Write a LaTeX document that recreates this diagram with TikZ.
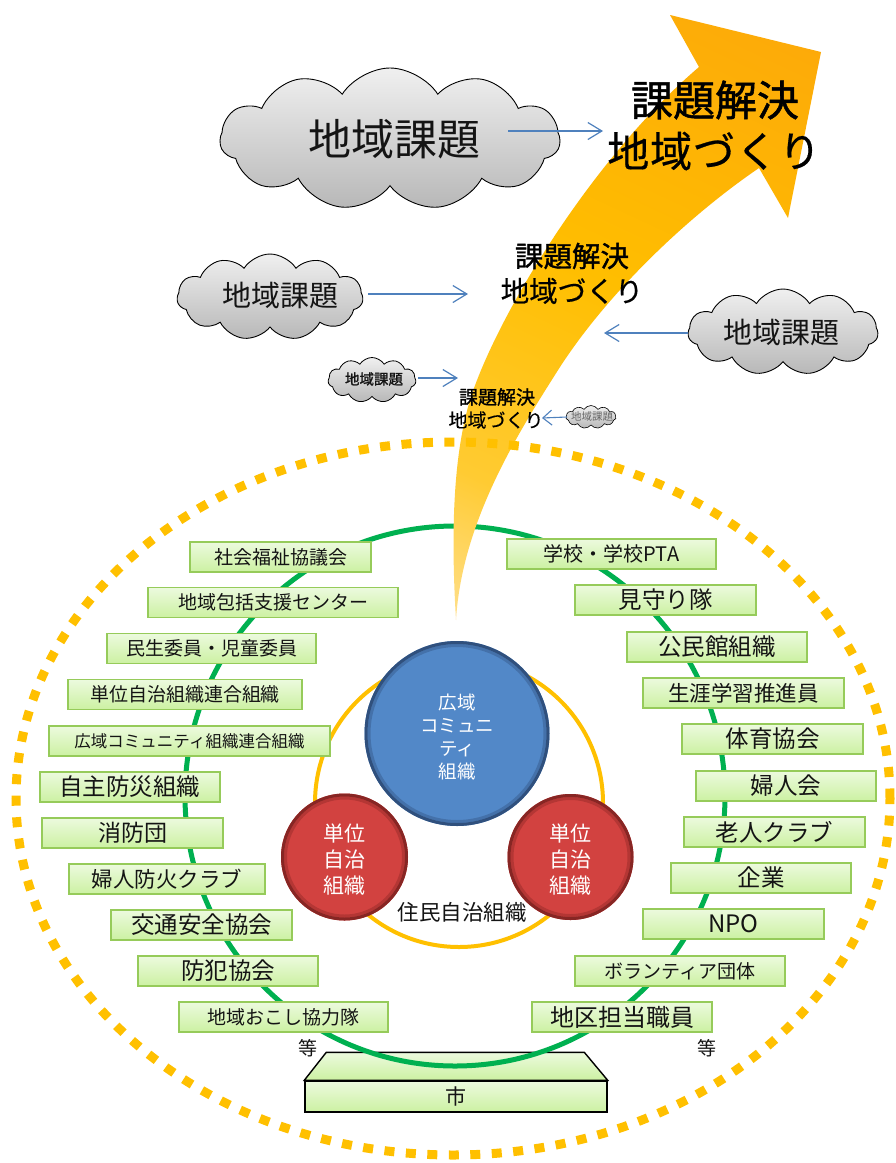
\documentclass[tikz,border=0pt]{standalone}
\usepackage{fontspec}
\setmainfont{Noto Sans CJK JP}
\usetikzlibrary{shapes.symbols,arrows.meta}
\definecolor{dotyel}{RGB}{255,192,0}
\definecolor{ringgreen}{RGB}{0,176,80}
\definecolor{ringyel}{RGB}{255,192,0}
\definecolor{arrowblue}{RGB}{79,129,189}
\definecolor{gtop}{RGB}{236,250,222}
\definecolor{gbot}{RGB}{204,241,162}
\definecolor{gborder}{RGB}{150,203,90}
\definecolor{bluemain}{RGB}{82,136,200}
\definecolor{bluedark}{RGB}{48,80,125}
\definecolor{redmain}{RGB}{210,66,64}
\definecolor{reddark}{RGB}{135,38,36}
\definecolor{ar0}{RGB}{255,248,232}
\definecolor{ar1}{RGB}{255,228,160}
\definecolor{ar2}{RGB}{255,203,50}
\definecolor{ar3}{RGB}{255,190,0}
\definecolor{ar4}{RGB}{253,172,8}
\definecolor{ar5}{RGB}{247,150,22}
\definecolor{txt}{RGB}{20,20,20}
\pgfdeclareverticalshading{arrowshade}{100bp}{color(0bp)=(ar0); color(14bp)=(ar1); color(30bp)=(ar2); color(52bp)=(ar3); color(78bp)=(ar4); color(100bp)=(ar5)}
\newcommand{\fsz}[1]{\fontsize{#1pt}{#1pt}\selectfont}
\newcommand{\heavy}{\addfontfeatures{FakeBold=1.3}}
\begin{document}
\begin{tikzpicture}[x=1pt,y=-1pt,
  gbox/.style={draw=gborder, line width=1.5pt, top color=gtop, bottom color=gbot,
    minimum height=30pt, inner sep=0pt, text=txt},
  cloudshape/.style={cloud, cloud puffs=11, cloud puff arc=115, cloud ignores aspect,
    draw=black, line width=0.9pt, top color=black!6, bottom color=black!28, inner sep=0pt},
  bluearrow/.style={draw=arrowblue, line width=1.2pt, -{Straight Barb[length=14pt,width=17pt]}},
  smallarrow/.style={draw=arrowblue, line width=1.1pt, -{Straight Barb[length=9pt,width=15pt]}},
  sibox/.style={draw=black, line width=1.4pt, top color=gtop, bottom color=gbot},
  ctext/.style={text=white, align=center, inner sep=0pt},
  rimA/.style={line width=3pt},
  rimB/.style={line width=3pt, opacity=0.4}
]
\fill[white] (0,0) rectangle (896,1163);
\useasboundingbox (0,0) rectangle (896,1163);

% city slab
\node[sibox, minimum width=302pt, minimum height=31pt, inner sep=0pt, text=txt, font=\fsz{21}] (shi) at (456,1096.5) {市};
\draw[sibox] (shi.north west) -- ++(22,-28) -- ++(258,0) -- (shi.north east) -- cycle;

% green ring
\draw[ringgreen, line width=5pt] (455,796) circle[radius=270pt];

% big curved arrow
\shade[shading=arrowshade, shading angle=-25]
 (456,620) .. controls (450,520) and (455,450) .. (470,400)
 .. controls (495,320) and (590,160) .. (699,67)
 -- (670,15) -- (821,52) -- (788,218) -- (759,168)
 .. controls (690,215) and (610,290) .. (560,367)
 .. controls (520,430) and (462,520) .. (456,620) -- cycle;

% dotted ellipse
\draw[dotyel, line width=9pt, dash pattern=on 10pt off 11.5pt] (453,798.5) ellipse[x radius=437pt, y radius=356.5pt];

% yellow ring
\draw[ringyel, line width=4pt] (459,803) circle[radius=144pt];

% circles
\node[circle, minimum size=185pt, inner sep=0pt, fill=bluemain] (bc) at (457,733.5) {};
\draw[bluedark, rimA] (bc.center) circle[radius=91pt];
\draw[bluedark, rimB] (bc.center) circle[radius=88pt];
\node[ctext, font=\fontsize{18.5pt}{22.7pt}\selectfont] (bct) at (457,737) {広域\\コミュニ\\ティ\\組織};
\node[circle, minimum size=127pt, inner sep=0pt, fill=redmain] (rl) at (344.5,857) {};
\draw[reddark, rimA] (rl.center) circle[radius=62pt];
\draw[reddark, rimB] (rl.center) circle[radius=59pt];
\node[ctext, font=\fontsize{21pt}{26pt}\selectfont] (rlt) at (344.5,859.5) {単位\\自治\\組織};
\node[circle, minimum size=126pt, inner sep=0pt, fill=redmain] (rr) at (570.5,857) {};
\draw[reddark, rimA] (rr.center) circle[radius=61.5pt];
\draw[reddark, rimB] (rr.center) circle[radius=58.5pt];
\node[ctext, font=\fontsize{21pt}{26pt}\selectfont] (rrt) at (570.5,859.5) {単位\\自治\\組織};
\node[text=txt, font=\fsz{21.5}, inner sep=0pt] (jumin) at (462,912) {住民自治組織};

% left boxes
\node[gbox, minimum width=181pt, font=\fsz{19}] (l1) at (280.5,557) {社会福祉協議会};
\node[gbox, minimum width=250pt, font=\fsz{19}] (l2) at (273,602.5) {地域包括支援センター};
\node[gbox, minimum width=209pt, font=\fsz{19}] (l3) at (211.5,648.5) {民生委員・児童委員};
\node[gbox, minimum width=234pt, font=\fsz{19}] (l4) at (185,694.5) {単位自治組織連合組織};
\node[gbox, minimum width=281pt, font=\fsz{16.5}] (l5) at (189.5,741) {広域コミュニティ組織連合組織};
\node[gbox, minimum width=180pt, font=\fsz{23.5}] (l6) at (130,787) {自主防災組織};
\node[gbox, minimum width=181pt, font=\fsz{23}] (l7) at (132.5,833) {消防団};
\node[gbox, minimum width=196pt, font=\fsz{21.5}] (l8) at (167,879) {婦人防火クラブ};
\node[gbox, minimum width=181pt, font=\fsz{23.5}] (l9) at (201.5,925) {交通安全協会};
\node[gbox, minimum width=180pt, font=\fsz{23.5}] (l10) at (228,971) {防犯協会};
\node[gbox, minimum width=209pt, font=\fsz{19}] (l11) at (283.5,1017) {地域おこし協力隊};
\node[text=txt, font=\fsz{19}, inner sep=0pt] (etcl) at (308,1048) {等};

% right boxes
\node[gbox, minimum width=209pt, font=\fsz{20}] (r1) at (611.5,554) {学校・学校PTA};
\node[gbox, minimum width=181pt, font=\fsz{23.5}] (r2) at (665.5,600) {見守り隊};
\node[gbox, minimum width=180pt, font=\fsz{23.5}] (r3) at (717,647) {公民館組織};
\node[gbox, minimum width=201pt, font=\fsz{21.5}] (r4) at (743.5,693) {生涯学習推進員};
\node[gbox, minimum width=181pt, font=\fsz{23.5}] (r5) at (772.5,739) {体育協会};
\node[gbox, minimum width=180pt, font=\fsz{23.5}] (r6) at (786,786) {婦人会};
\node[gbox, minimum width=181pt, font=\fsz{23.5}] (r7) at (774.5,832) {老人クラブ};
\node[gbox, minimum width=180pt, font=\fsz{23.5}] (r8) at (761,878) {企業};
\node[gbox, minimum width=181pt, font=\fsz{24}] (r9) at (733.5,924) {NPO};
\node[gbox, minimum width=210pt, font=\fsz{19}] (r10) at (680,971) {ボランティア団体};
\node[gbox, minimum width=180pt, font=\fsz{24}] (r11) at (622,1017) {地区担当職員};
\node[text=txt, font=\fsz{19}, inner sep=0pt] (etcr) at (707,1048) {等};

% clouds
\node[cloudshape, minimum width=340pt, minimum height=142pt] (c1) at (390,139) {};
\node[text=txt, font=\fsz{43}, inner sep=0pt] (c1t) at (394,139) {地域課題};
\node[cloudshape, minimum width=186pt, minimum height=86pt] (c2) at (270,297) {};
\node[text=txt, font=\fsz{29}, inner sep=0pt] (c2t) at (280,296) {地域課題};
\node[cloudshape, minimum width=190pt, minimum height=86pt] (c3) at (783,332) {};
\node[text=txt, font=\fsz{29}, inner sep=0pt] (c3t) at (781,333) {地域課題};
\node[cloudshape, minimum width=88pt, minimum height=45pt, line width=0.8pt] (c4) at (372,380) {};
\node[text=txt, font=\fsz{14.5}\heavy, inner sep=0pt] (c4t) at (374,379) {地域課題};
\node[cloudshape, minimum width=50pt, minimum height=23pt, line width=0.6pt] (c5) at (591,417) {};
\node[text=black!60, font=\fsz{10.5}, inner sep=0pt] (c5t) at (592,417) {地域課題};

% solution texts
\node[text=black, font=\fsz{42}\heavy, inner sep=0pt] (s1a) at (715,100) {課題解決};
\node[text=black, font=\fsz{42}\addfontfeatures{FakeBold=0.5,LetterSpace=2}, inner sep=0pt] (s1b) at (714,151) {地域づくり};
\node[text=black, font=\fsz{28.5}\heavy, inner sep=0pt] (s2a) at (572,256) {課題解決};
\node[text=black, font=\fsz{28.5}\addfontfeatures{FakeBold=0.4}, inner sep=0pt] (s2b) at (572,291) {地域づくり};
\node[text=black, font=\fsz{19}\heavy, inner sep=0pt] (s3a) at (497,397) {課題解決};
\node[text=black, font=\fsz{19}\addfontfeatures{FakeBold=0.3}, inner sep=0pt] (s3b) at (496,420) {地域づくり};

% connectors
\coordinate (a1s) at (508,131); \coordinate (a1e) at (603,131);
\coordinate (a2s) at (368,294); \coordinate (a2e) at (468,294);
\coordinate (a3s) at (688,333); \coordinate (a3e) at (604,333);
\coordinate (a4s) at (418,378); \coordinate (a4e) at (458,378);
\coordinate (a5s) at (567,417); \coordinate (a5e) at (542,418);
\draw[bluearrow] (a1s) -- (a1e);
\draw[bluearrow] (a2s) -- (a2e);
\draw[bluearrow] (a3s) -- (a3e);
\draw[bluearrow] (a4s) -- (a4e);
\draw[smallarrow] (a5s) -- (a5e);
\end{tikzpicture}
\end{document}
